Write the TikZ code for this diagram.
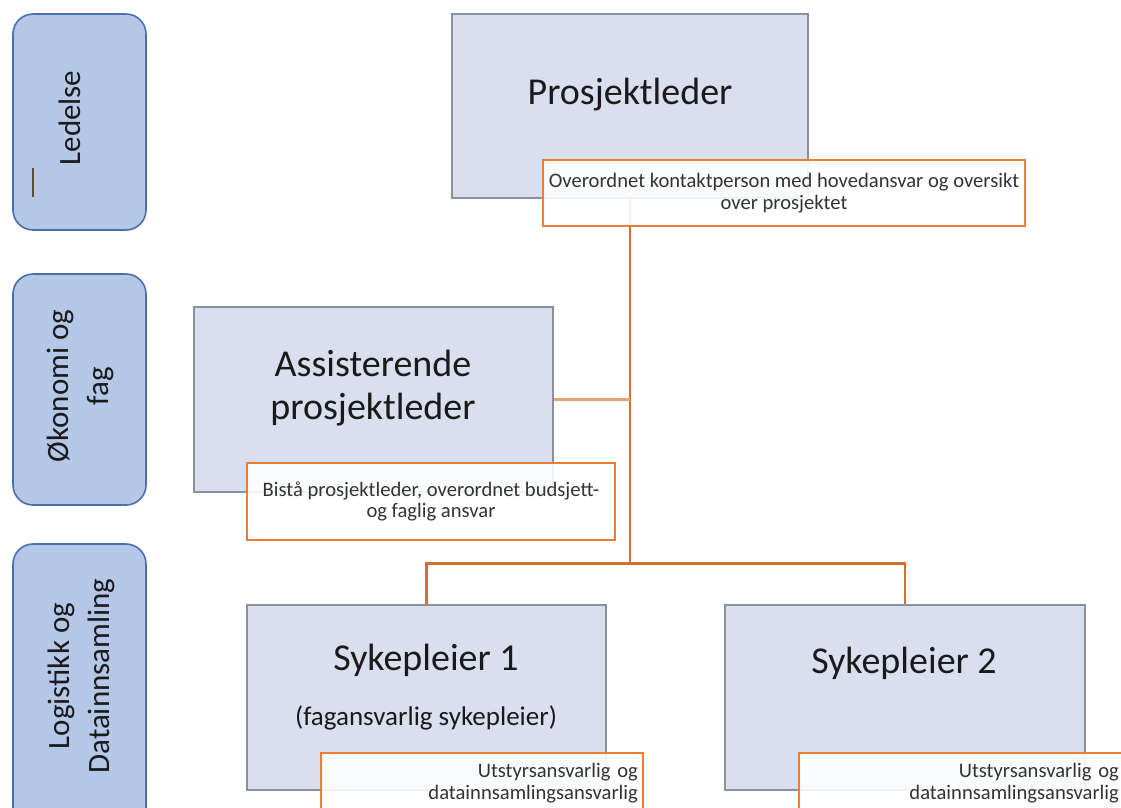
\documentclass[tikz,border=0pt]{standalone}
\usepackage{fontspec}
\setmainfont{Carlito}

\definecolor{catfill}{HTML}{B4C7E7}
\definecolor{catline}{HTML}{4A6FB0}
\definecolor{boxfill}{HTML}{D9DFEE}
\definecolor{boxline}{HTML}{8A909C}
\definecolor{noteline}{HTML}{ED7D31}
\definecolor{linkdark}{HTML}{D4702F}
\definecolor{linklight}{HTML}{E8A274}
\definecolor{ink}{HTML}{1A1A1A}
\definecolor{noteink}{HTML}{333333}
\definecolor{markbrown}{HTML}{5C4B2C}

\begin{document}
\begin{tikzpicture}[x=1pt,y=-1pt,
  catbox/.style={draw=catline, fill=catfill, line width=1.6pt, rounded corners=20pt, inner sep=0pt},
  cattext/.style={rotate=90, align=center, text=ink, font=\fontsize{31}{40}\selectfont, inner sep=0pt},
  rolebox/.style={draw=boxline, fill=boxfill, line width=1.3pt, inner sep=0pt},
  roletext/.style={align=center, text=ink, font=\fontsize{38}{43}\selectfont, inner sep=0pt},
  subtext/.style={text=ink, font=\fontsize{27}{32}\selectfont, inner sep=0pt},
  note/.style={draw=noteline, fill=white, fill opacity=0.88, text opacity=1,
    line width=1.8pt, text=noteink, font=\fontsize{20.6}{21.5}\selectfont, inner ysep=0pt, inner xsep=5pt},
  link/.style={draw=linkdark, line width=2.8pt},
  linklt/.style={draw=linklight, line width=2.8pt}]

\useasboundingbox (0,0) rectangle (1121,807);

% area labels on the left
\node[catbox, minimum width=133pt, minimum height=216pt] (ledelse) at (79.5,122) {};
\node[catbox, minimum width=133pt, minimum height=231pt] (okonomi) at (79.5,389.5) {};
\node[catbox, minimum width=133pt, minimum height=296pt] (logistikk) at (79.5,692) {};
\node[cattext] (ledelse-t) at (70,118) {Ledelse};
\node[cattext] (okonomi-t) at (80,386) {Økonomi og\\fag};
\node[cattext] (logistikk-t) at (81,676) {Logistikk og\\Datainnsamling};
\draw[markbrown, line width=1.8pt] (33,168) -- (33,197);

% roles
\node[rolebox, minimum width=356pt, minimum height=184pt] (pl) at (630,106) {};
\node[rolebox, minimum width=359pt, minimum height=185pt] (apl) at (373.5,399.5) {};
\node[rolebox, minimum width=359pt, minimum height=185pt] (s1) at (426.5,697.5) {};
\node[rolebox, minimum width=360pt, minimum height=185pt] (s2) at (905,697.5) {};

% reporting lines
\path (pl.south) ++(0,365) coordinate (hub);
\draw[link] (pl.south) -- (hub);
\draw[linklt] (apl.east) -- (apl.east -| hub);
\draw[link] (s1.north) |- (hub) -| (s2.north);

% role titles
\node[roletext, anchor=base] (pl-t) at (630,104) {Prosjektleder};
\node[roletext] (apl-t) at (373,388) {Assisterende\\prosjektleder};
\node[roletext, anchor=base] (s1-t) at (426,670) {Sykepleier 1};
\node[subtext, anchor=base] (s1-sub) at (426,725) {(fagansvarlig sykepleier)};
\node[roletext, anchor=base] (s2-t) at (904,673) {Sykepleier 2};

% responsibilities
\node[note, align=center, minimum width=482pt, minimum height=66pt] (pl-note) at (784,193)
  {Overordnet kontaktperson med hovedansvar og oversikt\\over prosjektet};
\node[note, align=center, minimum width=368pt, minimum height=77pt] (apl-note) at (431,501.5)
  {Bistå prosjektleder, overordnet budsjett-\\og faglig ansvar};
\node[note, align=right, text width=312pt, minimum height=60pt, anchor=north west] (s1-note) at (320,752)
  {Utstyrsansvarlig og\\datainnsamlingsansvarlig};
\node[note, align=right, text width=315pt, minimum height=60pt, anchor=north west] (s2-note) at (798,752)
  {Utstyrsansvarlig og\\datainnsamlingsansvarlig};
\end{tikzpicture}
\end{document}
